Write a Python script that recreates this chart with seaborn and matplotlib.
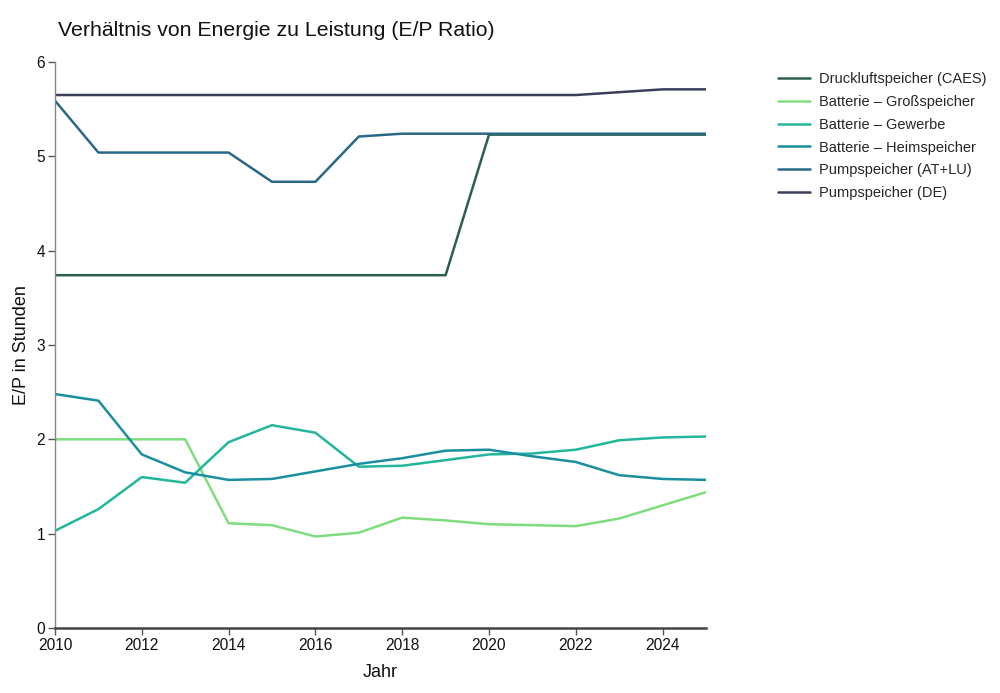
import matplotlib
matplotlib.use("Agg")
import matplotlib.pyplot as plt
import seaborn as sns
import pandas as pd

years = list(range(2010, 2026))
caes = [3.74]*10 + [5.23]*6
gross = [2.0, 2.0, 2.0, 2.0, 1.11, 1.09, 0.97, 1.01, 1.17, 1.14, 1.10, 1.09, 1.08, 1.16, 1.30, 1.44]
gewerbe = [1.03, 1.26, 1.60, 1.54, 1.97, 2.15, 2.07, 1.71, 1.72, 1.78, 1.84, 1.85, 1.89, 1.99, 2.02, 2.03]
heim = [2.48, 2.41, 1.84, 1.65, 1.57, 1.58, 1.66, 1.74, 1.80, 1.88, 1.89, 1.82, 1.76, 1.62, 1.58, 1.57]
atlu = [5.59, 5.04, 5.04, 5.04, 5.04, 4.73, 4.73, 5.21, 5.24, 5.24, 5.24, 5.24, 5.24, 5.24, 5.24, 5.24]
de = [5.65]*13 + [5.68, 5.71, 5.71]

series_names = ["Druckluftspeicher (CAES)", "Batterie – Großspeicher", "Batterie – Gewerbe",
                "Batterie – Heimspeicher", "Pumpspeicher (AT+LU)", "Pumpspeicher (DE)"]
colors = ["#2d5e4e", "#7fdd7f", "#22b79b", "#1a8fa0", "#2a6888", "#3b3f5c"]

frames = []
for name, vals in zip(series_names, [caes, gross, gewerbe, heim, atlu, de]):
    frames.append(pd.DataFrame({"Jahr": years, "Wert": vals, "Serie": name}))
df = pd.concat(frames, ignore_index=True)

sns.set_theme(style="white")
plt.rcParams["font.family"] = ["Liberation Sans", "DejaVu Sans"]

fig = plt.figure(figsize=(10, 6.93), dpi=100)
ax = fig.add_axes([0.055, 1 - 628/693, 0.651, (628-62)/693])

sns.lineplot(data=df, x="Jahr", y="Wert", hue="Serie", hue_order=series_names,
             palette=colors, linewidth=1.8, ax=ax, legend=True)

ax.set_xlim(2010, 2025)
ax.set_ylim(0, 6)
ax.set_xticks(range(2010, 2025, 2))
ax.set_yticks(range(0, 7))
ax.tick_params(axis="both", which="both", direction="out", length=5, width=1,
               color="#555555", labelsize=11.2, labelcolor="#111111", pad=2, bottom=True, left=True)
for s in ["top", "right"]:
    ax.spines[s].set_visible(False)
ax.spines["left"].set_color("#888888")
ax.spines["left"].set_linewidth(1)
ax.spines["bottom"].set_color("#444444")
ax.spines["bottom"].set_linewidth(1.8)

ax.set_xlabel("Jahr", fontsize=13, color="#111111", labelpad=8)
ax.set_ylabel("E/P in Stunden", fontsize=13, color="#111111", labelpad=5)

fig.text(0.058, 1 - 30/693, "Verhältnis von Energie zu Leistung (E/P Ratio)", fontsize=15.3,
         color="#111111", va="center", ha="left")

handles, labels = ax.get_legend_handles_labels()
ax.legend(handles, labels, loc="upper left", bbox_to_anchor=(1.09, 1.005), frameon=False,
          fontsize=10.5, handlelength=2.2, labelspacing=0.6, handletextpad=0.6)

fig.savefig("out.png", dpi=100)
